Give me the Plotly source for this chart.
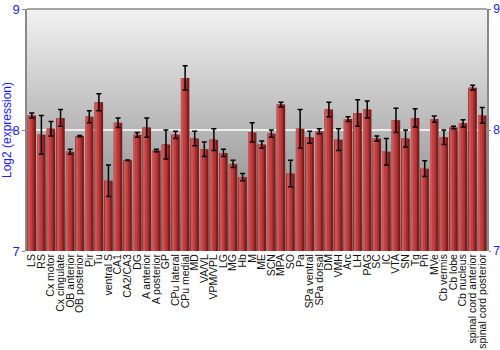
import plotly.graph_objects as go

categories = ["LS", "RS", "Cx motor", "Cx cingulate", "OB anterior", "OB posterior", "Pir", "Tu",
              "ventral S", "CA1", "CA2/CA3", "DG", "A anterior", "A posterior", "GP", "CPu lateral",
              "CPu medial", "MD", "VA/VL", "VPM/VPL", "LG", "MG", "Hb", "M", "ME", "SCN", "MPA", "SO",
              "Pa", "SPa ventral", "SPa dorsal", "DM", "VMH", "Arc", "LH", "PAG", "SC", "IC", "VTA",
              "SN", "Tg", "Pn", "MVe", "Cb vermis", "Cb lobe", "Cb nucleus", "spinal cord anterior",
              "spinal cord posterior"]
values = [8.12, 7.96, 8.01, 8.10, 7.82, 7.95, 8.11, 8.23,
          7.58, 8.06, 7.75, 7.96, 8.02, 7.83, 7.88, 7.96,
          8.43, 7.93, 7.84, 7.92, 7.81, 7.72, 7.61, 7.98, 7.88, 7.97, 8.21, 7.64,
          8.01, 7.94, 7.99, 8.17, 7.92, 8.09, 8.14, 8.17, 7.93, 7.82, 8.08,
          7.93, 8.10, 7.68, 8.09, 7.94, 8.02, 8.055, 8.35,
          8.12]
errors = [0.02, 0.16, 0.06, 0.07, 0.02, 0.005, 0.05, 0.07,
          0.13, 0.04, 0.003, 0.02, 0.08, 0.01, 0.12, 0.03,
          0.10, 0.06, 0.06, 0.09, 0.03, 0.03, 0.03, 0.08, 0.03, 0.03, 0.02, 0.11,
          0.16, 0.05, 0.02, 0.06, 0.09, 0.02, 0.11, 0.07, 0.02, 0.11, 0.10,
          0.07, 0.075, 0.065, 0.025, 0.06, 0.01, 0.03, 0.02,
          0.065]
y_ticks = [7, 8, 9]
y_range = [7, 9]

n = len(categories)
xs = list(range(n))
heights = [v - y_range[0] for v in values]
blue = "#1a1aff"

fig = go.Figure()

# background gradient panel (primary y axis, drawn underneath)
fig.add_trace(go.Scatter(
    x=[-0.5, n - 0.5, n - 0.5, -0.5, -0.5], y=[y_range[0], y_range[0], y_range[1], y_range[1], y_range[0]],
    fill="toself", mode="none", hoverinfo="skip", showlegend=False,
    fillgradient=dict(type="vertical", colorscale=[[0, "#7a7a7a"], [1, "#f2f2f2"]]),
))
fig.add_trace(go.Scatter(
    x=[-0.5, n - 0.5], y=[8, 8], mode="lines", line=dict(color="white", width=1.5),
    hoverinfo="skip", showlegend=False,
))

# bars: layered to imitate the shaded cylinder look
for w, off, col in [(0.88, -0.44, "#7c1c1c"), (0.66, -0.44, "#a82f2f"),
                    (0.42, -0.38, "#bf4040"), (0.14, -0.36, "#cc5656")]:
    fig.add_trace(go.Bar(
        x=xs, y=heights, base=y_range[0], yaxis="y2", width=w, offset=off,
        marker=dict(color=col, line=dict(width=0)), showlegend=False, hoverinfo="skip",
    ))

# error bars on top
fig.add_trace(go.Scatter(
    x=xs, y=values, yaxis="y2", mode="markers", marker=dict(opacity=0, size=1),
    error_y=dict(type="data", array=errors, color="black", thickness=1.5, width=2.5),
    showlegend=False,
))

fig.update_layout(
    width=500, height=350,
    margin=dict(l=27, r=13, t=9, b=99),
    barmode="overlay",
    paper_bgcolor="white", plot_bgcolor="rgba(0,0,0,0)",
    font=dict(family="Liberation Sans, Arial, sans-serif", size=11, color="#111"),
    xaxis=dict(range=[-0.5, n - 0.5], tickvals=xs, ticktext=categories, tickangle=-90,
               showgrid=False, zeroline=False, showline=False, ticks="", automargin=False,
               tickfont=dict(size=10.5, color="#111")),
    yaxis=dict(range=y_range, tickvals=y_ticks, showgrid=False, zeroline=False, automargin=False,
               showline=True, linecolor="#888", linewidth=1.5, ticks="outside", ticklen=3,
               tickcolor="#888", tickfont=dict(size=13, color=blue),
               title=dict(text="Log2 (expression)", font=dict(size=12, color=blue), standoff=4)),
    yaxis2=dict(range=y_range, tickvals=y_ticks, overlaying="y", side="right", automargin=False,
                showgrid=False, zeroline=False, showline=True, linecolor="#888", linewidth=1.5,
                ticks="outside", ticklen=2, tickcolor="#888", tickfont=dict(size=12, color=blue)),
    shapes=[
        dict(type="line", xref="paper", yref="paper", x0=0, x1=1, y0=1, y1=1,
             line=dict(color="#888", width=1.5)),
    ],
)

fig.write_html("out.html")
